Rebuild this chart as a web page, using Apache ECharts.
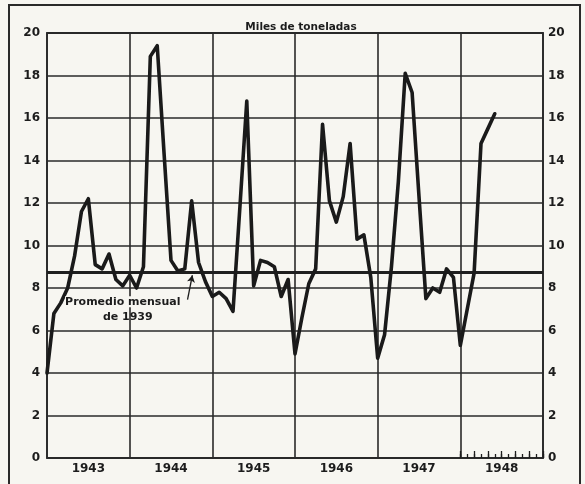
<!DOCTYPE html>
<html>
<head>
<meta charset="utf-8">
<script src="https://cdn.jsdelivr.net/npm/echarts@6/dist/echarts.min.js"></script>
<style>
  html, body { margin: 0; padding: 0; background: #f7f6f1; }
  #chart { width: 585px; height: 484px; }
</style>
</head>
<body>
<div id="chart"></div>
<script>
// Month index 0 = January 1943
const years = ['1943', '1944', '1945', '1946', '1947', '1948'];
const yTicks = [0, 2, 4, 6, 8, 10, 12, 14, 16, 18, 20];
const monthly = [
  4.0, 6.8, 7.3, 8.0, 9.5, 11.6, 12.2, 9.1, 8.9, 9.6, 8.4, 8.1,      // 1943
  8.6, 8.0, 9.0, 18.9, 19.4, 14.3, 9.3, 8.8, 8.9, 12.1, 9.2, 8.3,    // 1944
  7.6, 7.8, 7.5, 6.9, 11.8, 16.8, 8.1, 9.3, 9.2, 9.0, 7.6, 8.4,      // 1945
  4.9, 6.6, 8.2, 8.9, 15.7, 12.1, 11.1, 12.3, 14.8, 10.3, 10.5, 8.5, // 1946
  4.7, 5.8, 9.0, 13.0, 18.1, 17.2, 12.3, 7.5, 8.0, 7.8, 8.9, 8.5,    // 1947
  5.3, 7.0, 8.7, 14.8, 15.5, 16.2                                    // 1948
];
const average1939 = 8.75;
const noteLines = ['Promedio mensual', 'de 1939'];
const noteAnchor = [11, 7.35];
const arrowFrom = [20.4, 7.45];
const arrowTo = [21.1, 8.6];

const ink = '#1c1c1c';
const font = 'DejaVu Sans';
const seriesData = monthly.map((v, i) => [i, v]);

const chart = echarts.init(document.getElementById('chart'), null, { renderer: 'canvas' });

const option = {
  backgroundColor: '#f7f6f1',
  animation: false,
  textStyle: { fontFamily: font, color: ink },
  title: {
    text: 'Miles de toneladas',
    left: 296, top: 17, textAlign: 'center',
    textStyle: { fontFamily: font, fontSize: 10.5, fontWeight: 'bold', color: ink }
  },
  grid: [
    { left: 47, right: 42, top: 33, bottom: 26, show: true, borderColor: '#2a2a2a', borderWidth: 1.8, backgroundColor: 'transparent' },
    { left: 460.3, right: 42, top: 33, bottom: 26, show: false }
  ],
  xAxis: [
    {
      type: 'value', gridIndex: 0, min: 0, max: 72, interval: 12, position: 'bottom',
      axisLine: { show: false }, axisTick: { show: false }, axisLabel: { show: false },
      splitLine: { show: true, lineStyle: { color: '#2a2a2a', width: 1.6 } }
    },
    {
      type: 'category', gridIndex: 0, data: years, position: 'bottom', boundaryGap: true,
      axisLine: { show: false }, axisTick: { show: false },
      axisLabel: { fontFamily: font, fontSize: 12, fontWeight: 'bold', color: ink, margin: 5 }
    },
    {
      type: 'value', gridIndex: 1, min: 0, max: 12, interval: 1, position: 'bottom',
      axisLine: { show: false }, axisLabel: { show: false }, splitLine: { show: false },
      axisTick: { show: true, inside: true, length: 4, lineStyle: { color: ink, width: 1.3 } }
    },
    {
      type: 'value', gridIndex: 1, min: 0, max: 12, interval: 2, position: 'bottom',
      axisLine: { show: false }, axisLabel: { show: false }, splitLine: { show: false },
      axisTick: { show: true, inside: true, length: 7, lineStyle: { color: ink, width: 1.3 } }
    }
  ],
  yAxis: [
    {
      type: 'value', gridIndex: 0, min: yTicks[0], max: yTicks[yTicks.length - 1], interval: 2,
      position: 'left',
      axisLine: { show: false }, axisTick: { show: false },
      axisLabel: { fontFamily: font, fontSize: 12, fontWeight: 'bold', color: ink, margin: 7 },
      splitLine: { show: true, lineStyle: { color: '#2a2a2a', width: 1.6 } }
    },
    {
      type: 'value', gridIndex: 0, min: yTicks[0], max: yTicks[yTicks.length - 1], interval: 2,
      position: 'right',
      axisLine: { show: false }, axisTick: { show: false },
      axisLabel: { fontFamily: font, fontSize: 12, fontWeight: 'bold', color: ink, margin: 5 },
      splitLine: { show: false }
    },
    {
      type: 'value', gridIndex: 1, min: 0, max: 20, show: false
    }
  ],
  series: [
    {
      type: 'line', xAxisIndex: 0, yAxisIndex: 0,
      data: seriesData, symbol: 'none', z: 5,
      lineStyle: { color: '#1a1a1a', width: 3.6, join: 'round', cap: 'round' },
      markLine: {
        silent: true, symbol: 'none', animation: false,
        label: { show: false },
        lineStyle: { color: '#1f1f1f', width: 3, type: 'solid' },
        data: [ { yAxis: average1939 } ]
      }
    },
    {
      type: 'line', xAxisIndex: 0, yAxisIndex: 0, data: [], symbol: 'none',
      markLine: {
        silent: true, symbol: ['none', 'arrow'], symbolSize: [6, 7], animation: false,
        label: { show: false },
        lineStyle: { color: ink, width: 1.3, type: 'solid' },
        data: [ [ { coord: arrowFrom }, { coord: arrowTo } ] ]
      }
    },
    { type: 'line', xAxisIndex: 2, yAxisIndex: 2, data: [], symbol: 'none' },
    { type: 'line', xAxisIndex: 3, yAxisIndex: 2, data: [], symbol: 'none' }
  ]
};

chart.setOption(option);

const p = chart.convertToPixel({ xAxisIndex: 0, yAxisIndex: 0 }, noteAnchor);
chart.setOption({
  graphic: [
    {
      type: 'rect', silent: true, z: 100,
      shape: { x: 9, y: 5, width: 571, height: 500 },
      style: { fill: 'none', stroke: '#2a2a2a', lineWidth: 2 }
    },
    {
      type: 'text', silent: true, z: 100,
      x: p[0], y: p[1],
      style: {
        text: noteLines[0], fill: ink, font: 'bold 11px "DejaVu Sans"',
        textAlign: 'center', textVerticalAlign: 'middle',
        backgroundColor: '#f7f6f1'
      }
    },
    {
      type: 'text', silent: true, z: 100,
      x: p[0] + 5, y: p[1] + 15,
      style: {
        text: noteLines[1], fill: ink, font: 'bold 11px "DejaVu Sans"',
        textAlign: 'center', textVerticalAlign: 'middle'
      }
    }
  ]
});
</script>
</body>
</html>
